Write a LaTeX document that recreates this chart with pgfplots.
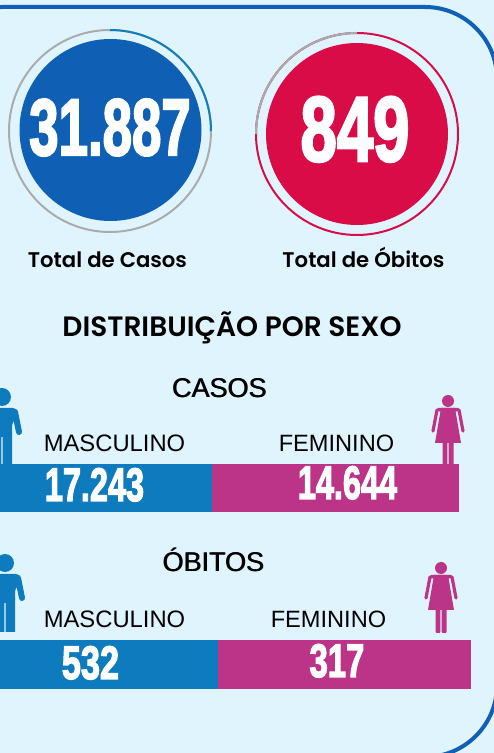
\documentclass[border=0pt]{standalone}
\usepackage{fontspec}
\setmainfont{Poppins}
\newfontfamily\headf{Poppins SemiBold}
\newfontfamily\arialf{Liberation Sans}
\newfontfamily\numf[FakeBold=3]{Liberation Sans Bold}
\usepackage{pgfplots}
\pgfplotsset{compat=1.18}
\usetikzlibrary{calc}

\definecolor{bgpanel}{HTML}{E0F4FD}
\definecolor{framecol}{HTML}{0F60B6}
\definecolor{discblue}{HTML}{0F5FB5}
\definecolor{discred}{HTML}{D90C48}
\definecolor{ringgray}{HTML}{A9ACAE}
\definecolor{ringblue}{HTML}{1080BC}
\definecolor{malecol}{HTML}{0D7BBD}
\definecolor{femcol}{HTML}{BC3488}

% condensed heavy numerals: size, x squeeze, text
\newcommand{\bignum}[3]{\scalebox{#2}[1]{\fontsize{#1}{#1}\numf #3}}
% medium weight section label, set twice with a small offset
\newcommand{\seclabel}[3]{%
  \node[anchor=base,font=\arialf\fontsize{27pt}{27pt}\selectfont] at (axis cs:#1-0.3,#2) {#3};
  \node[anchor=base,font=\arialf\fontsize{27pt}{27pt}\selectfont] at (axis cs:#1+0.3,#2) {#3};}

% icons, head centre at picture pixel (x,y)
\newcommand{\manicon}[2]{%
  \begin{scope}[shift={(#1pt,753pt-#2pt)},x=1pt,y=-1pt]
    \fill[malecol] (0,0) circle (9);
    \fill[malecol,rounded corners=3pt] (-14,11) -- (14,11) -- (16,20) -- (10,26) -- (10,40) -- (-10,40) -- (-10,26) -- (-16,20) -- cycle;
    \fill[malecol] (-10,36) rectangle (-0.7,69) (0.7,36) rectangle (10,69);
    \draw[malecol,line width=6pt,line cap=round] (13,15) -- (17,35);
    \draw[malecol,line width=6pt,line cap=round] (-13,15) -- (-17,35);
  \end{scope}}
\newcommand{\womanicon}[2]{%
  \begin{scope}[shift={(#1pt,753pt-#2pt)},x=1pt,y=-1pt]
    \fill[femcol] (0,0) circle (6);
    \fill[femcol] (-7,7) -- (7,7) -- (13,42) -- (-13,42) -- cycle;
    \fill[femcol,rounded corners=1pt] (-11,7) rectangle (11,10.5);
    \draw[femcol,line width=3.2pt,line cap=round] (11,9) -- (15,30);
    \draw[femcol,line width=3.2pt,line cap=round] (-11,9) -- (-15,30);
    \fill[femcol,rounded corners=1pt] (-5.5,40) rectangle (-0.6,65) (0.6,40) rectangle (5.5,65);
  \end{scope}}

\begin{document}
\begin{tikzpicture}
\useasboundingbox (0,0) rectangle (494pt,753pt);
\begin{axis}[
  at={(0,0)}, anchor=south west,
  scale only axis, width=494pt, height=753pt,
  xmin=0, xmax=494, ymin=0, ymax=753,
  hide axis, clip=true,
]
\fill[bgpanel] (axis cs:0,0) rectangle (axis cs:494,753);
\draw[framecol,line width=4pt,rounded corners=72pt] (axis cs:-70,-4) rectangle (axis cs:497,746);
% totals
\fill[discblue] (axis cs:110.5,623) circle[radius=91];
\draw[ringgray,line width=2pt] (axis cs:110,622) circle[radius=101];
\draw[ringblue,line width=2pt] (axis cs:211,622) arc[start angle=0,end angle=90,radius=101];
\fill[discred] (axis cs:357,619) circle[radius=91];
\draw[discred,line width=2pt] (axis cs:357,619) circle[radius=101];
\draw[ringgray,line width=2pt] (axis cs:256,619) arc[start angle=180,end angle=90,radius=101];
\node[white,anchor=base] at (axis cs:110,598) {\bignum{80pt}{0.66}{31.887}};
\node[white,anchor=base] at (axis cs:355,592) {\bignum{92pt}{0.71}{849}};
\node[anchor=base,font=\headf\fontsize{21.2pt}{21.2pt}\selectfont] at (axis cs:107.5,485) {Total de Casos};
\node[anchor=base,font=\headf\fontsize{21.2pt}{21.2pt}\selectfont] at (axis cs:363.5,485) {Total de Óbitos};
\node[anchor=base,font=\headf\fontsize{28pt}{28pt}\selectfont] at (axis cs:232,416) {DISTRIBUIÇÃO POR SEXO};
% section labels
\seclabel{219.5}{355}{CASOS}
\seclabel{213.5}{181}{ÓBITOS}
\node[anchor=base,font=\arialf\fontsize{23.8pt}{23.8pt}\selectfont] at (axis cs:114.5,301) {MASCULINO};
\node[anchor=base,font=\arialf\fontsize{23.6pt}{23.6pt}\selectfont] at (axis cs:336.5,301) {FEMININO};
\node[anchor=base,font=\arialf\fontsize{23.8pt}{23.8pt}\selectfont] at (axis cs:114.5,125) {MASCULINO};
\node[anchor=base,font=\arialf\fontsize{23.6pt}{23.6pt}\selectfont] at (axis cs:328.5,125) {FEMININO};
\end{axis}
\manicon{2}{397}
\womanicon{448}{401}
\manicon{5}{563}
\womanicon{441}{568}
% casos bar, cut off at the left by the crop
\begin{axis}[
  at={(0,241pt)}, anchor=south west,
  scale only axis, width=494pt, height=48pt,
  xbar stacked, bar width=48pt,
  xmin=4683, xmax=33966, ymin=-0.5, ymax=0.5,
  hide axis,
]
\addplot[fill=malecol,draw=none] coordinates {(17243,0)};
\addplot[fill=femcol,draw=none] coordinates {(14644,0)};
\end{axis}
% obitos bar
\begin{axis}[
  at={(0,64pt)}, anchor=south west,
  scale only axis, width=494pt, height=49pt,
  xbar stacked, bar width=49pt,
  xmin=258.9, xmax=877.9, ymin=-0.5, ymax=0.5,
  hide axis,
]
\addplot[fill=malecol,draw=none] coordinates {(532,0)};
\addplot[fill=femcol,draw=none] coordinates {(317,0)};
\end{axis}
% bar values
\node[white,anchor=base] at (94.5pt,252pt) {\bignum{47pt}{0.69}{17.243}};
\node[white,anchor=base] at (347.5pt,254pt) {\bignum{47pt}{0.69}{14.644}};
\node[white,anchor=base] at (90.5pt,74pt) {\bignum{47pt}{0.73}{532}};
\node[white,anchor=base] at (337pt,76pt) {\bignum{47pt}{0.70}{317}};
\end{tikzpicture}
\end{document}
